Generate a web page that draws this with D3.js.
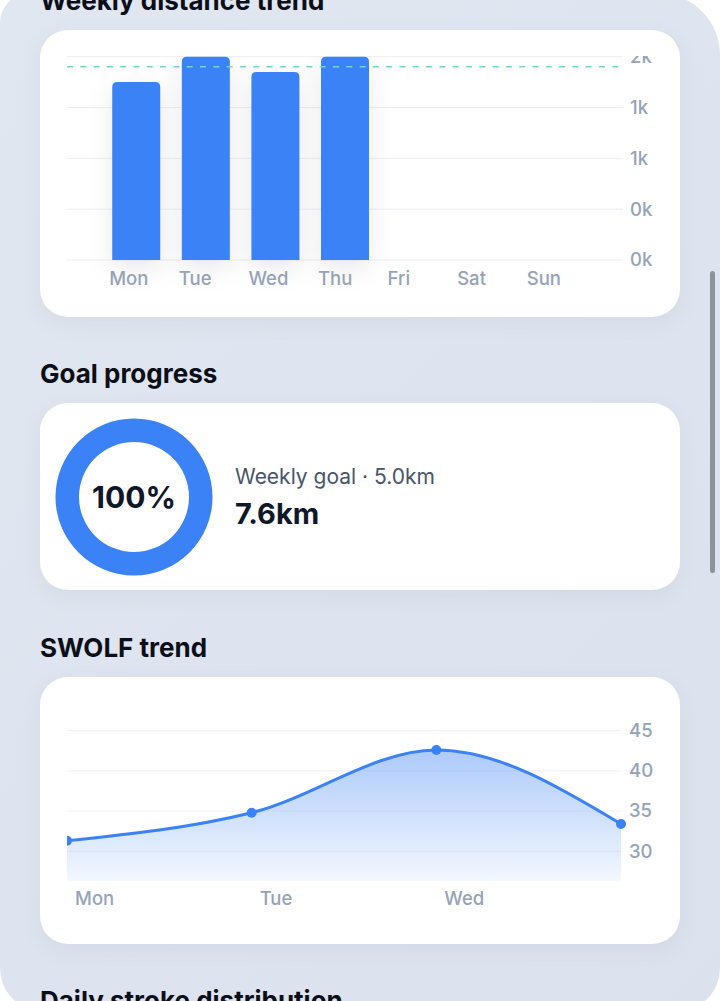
<!DOCTYPE html>
<html>
<head>
<meta charset="utf-8">
<script src="https://cdn.jsdelivr.net/npm/d3@7/dist/d3.min.js"></script>
<style>
  html, body { margin: 0; padding: 0; background: #ffffff; width: 720px; height: 1001px; overflow: hidden; }
  #frame { position: absolute; left: 0; top: -7px; width: 720px; height: 1019px;
    background: linear-gradient(135deg, #e1e7f1 0%, #dde4ef 60%, #dbe2ee 100%);
    border-radius: 30px 62px 44px 44px; }
  #scroll { position: absolute; left: 710px; top: 271px; width: 5px; height: 302px; background: #8e9299; border-radius: 3px; }
  svg { position: absolute; left: 0; top: 0; font-family: Inter, "Noto Sans", sans-serif; }
</style>
</head>
<body>
<div id="frame"></div>
<svg id="page" width="720" height="1001"></svg>
<div id="scroll"></div>
<script>
// ---------- data ----------
const days = ["Mon", "Tue", "Wed", "Thu", "Fri", "Sat", "Sun"];
const distance = [1750, 2000, 1850, 2000, null, null, null];
const distanceTicks = [0, 500, 1000, 1500, 2000];
const distanceTickLabels = ["0k", "0k", "1k", "1k", "2k"];
const avgDistance = 1900;

const goalKm = 5.0;
const totalKm = 7.6;
const goalPct = 100;

const swolfDays = ["Mon", "Tue", "Wed", "Thu"];
const swolf = [31.3, 34.8, 42.6, 33.4];
const swolfTicks = [30, 35, 40, 45];
const swolfAxisLabels = ["Mon", "Tue", "Wed"];

const titles = ["Weekly distance trend", "Goal progress", "SWOLF trend", "Daily stroke distribution"];

// ---------- page ----------
const svg = d3.select("#page");
const defs = svg.append("defs");

const cardShadow = defs.append("filter").attr("id", "cardShadow").attr("x", "-10%").attr("y", "-10%").attr("width", "120%").attr("height", "130%");
cardShadow.append("feDropShadow").attr("dx", 0).attr("dy", 6).attr("stdDeviation", 10)
  .attr("flood-color", "#1e293b").attr("flood-opacity", 0.05);

const barShadow = defs.append("filter").attr("id", "barShadow").attr("x", "-60%").attr("y", "-20%").attr("width", "220%").attr("height", "150%");
barShadow.append("feDropShadow").attr("dx", 0).attr("dy", 8).attr("stdDeviation", 12)
  .attr("flood-color", "#0f172a").attr("flood-opacity", 0.09);

const grad = defs.append("linearGradient").attr("id", "swolfGrad").attr("x1", 0).attr("y1", 0).attr("x2", 0).attr("y2", 1);
grad.append("stop").attr("offset", "0%").attr("stop-color", "#3b82f6").attr("stop-opacity", 0.42);
grad.append("stop").attr("offset", "100%").attr("stop-color", "#3b82f6").attr("stop-opacity", 0.06);

defs.append("clipPath").attr("id", "barClip").append("rect").attr("x", 40).attr("y", 56).attr("width", 640).attr("height", 261);
defs.append("clipPath").attr("id", "swolfClip").append("rect").attr("x", 67).attr("y", 680).attr("width", 620).attr("height", 264);

const cards = [
  { y: 30, h: 287 },
  { y: 403, h: 187 },
  { y: 677, h: 267 }
];
const titleBaselines = [10, 383, 657, 1010];

svg.selectAll("text.title").data(titles).join("text")
  .attr("class", "title")
  .attr("x", 40).attr("y", (d, i) => titleBaselines[i])
  .attr("font-size", 26).attr("font-weight", 700).attr("fill", "#0b0f19")
  .text(d => d);

svg.selectAll("rect.card").data(cards).join("rect")
  .attr("class", "card")
  .attr("x", 40).attr("y", d => d.y).attr("width", 640).attr("height", d => d.h)
  .attr("rx", 28).attr("fill", "#ffffff")
  .attr("filter", "url(#cardShadow)");

const axisColor = "#94a3b8";
const gridColor = "#eceef2";

// ---------- weekly distance bar chart ----------
{
  const g = svg.append("g").attr("clip-path", "url(#barClip)");
  const x = d3.scaleBand().domain(days).range([67, 623]).paddingInner(0.31).paddingOuter(0.65);
  const y = d3.scaleLinear().domain([0, 2000]).range([260, 56.7]);

  g.append("g").selectAll("line").data(distanceTicks).join("line")
    .attr("x1", 67).attr("x2", 623)
    .attr("y1", d => y(d)).attr("y2", d => y(d))
    .attr("stroke", gridColor).attr("stroke-width", 1);

  const r = 5;
  const barData = days.map((d, i) => ({ day: d, v: distance[i] })).filter(d => d.v != null);
  g.append("g").attr("filter", "url(#barShadow)")
    .selectAll("path").data(barData).join("path")
    .attr("fill", "#3b82f6")
    .attr("d", d => {
      const x0 = x(d.day), w = x.bandwidth(), y0 = y(d.v), y1 = y(0);
      return `M${x0},${y1} V${y0 + r} Q${x0},${y0} ${x0 + r},${y0} H${x0 + w - r} Q${x0 + w},${y0} ${x0 + w},${y0 + r} V${y1} Z`;
    });

  g.append("line")
    .attr("x1", 67).attr("x2", 623)
    .attr("y1", y(avgDistance)).attr("y2", y(avgDistance))
    .attr("stroke", "#6fd6c8").attr("stroke-width", 1.5).attr("stroke-dasharray", "6 7.3");

  const yAxis = d3.axisRight(y).tickValues(distanceTicks)
    .tickFormat((d, i) => distanceTickLabels[i]).tickSize(0).tickPadding(7);
  const ya = g.append("g").attr("transform", "translate(623,0)").call(yAxis);
  ya.select(".domain").remove();
  ya.selectAll("text").attr("fill", axisColor).attr("font-size", 18.5).attr("font-weight", 500).attr("font-family", "Inter, sans-serif");

  const xAxis = d3.axisBottom(x).tickSize(0).tickPadding(0);
  const xa = svg.append("g").attr("transform", "translate(0,271)").call(xAxis);
  xa.select(".domain").remove();
  xa.selectAll("text").attr("fill", axisColor).attr("font-size", 18.5).attr("font-weight", 500).attr("font-family", "Inter, sans-serif")
    .attr("text-anchor", "start").attr("x", -x.bandwidth() / 2 - 3).attr("dy", "0.76em");
}

// ---------- goal progress donut ----------
{
  const cx = 134, cy = 497, ro = 78.5, ri = 55;
  const g = svg.append("g").attr("transform", `translate(${cx},${cy})`);
  const arc = d3.arc().innerRadius(ri).outerRadius(ro);
  g.append("path").attr("d", arc({ startAngle: 0, endAngle: 2 * Math.PI })).attr("fill", "#e6eefc");
  const frac = Math.min(1, totalKm / goalKm);
  g.append("path").attr("d", arc({ startAngle: 0, endAngle: 2 * Math.PI * frac })).attr("fill", "#3b82f6");
  g.append("text").attr("text-anchor", "middle").attr("y", 10.5)
    .attr("font-size", 30).attr("font-weight", 700).attr("fill", "#0f172a")
    .text(goalPct + "%");

  svg.append("text").attr("x", 235).attr("y", 484)
    .attr("font-size", 21).attr("fill", "#475569")
    .text(`Weekly goal · ${goalKm.toFixed(1)}km`);
  svg.append("text").attr("x", 235).attr("y", 523.5)
    .attr("font-size", 29).attr("font-weight", 700).attr("fill", "#0f172a")
    .text(`${totalKm.toFixed(1)}km`);
}

// ---------- SWOLF area chart ----------
{
  const x = d3.scalePoint().domain(swolfDays).range([67, 621]);
  const y = d3.scaleLinear().domain([d3.min(swolf) - 5, d3.max(swolf) + 5]).range([881, 709.8]);
  const pts = swolfDays.map((d, i) => ({ d, v: swolf[i] }));

  const g = svg.append("g").attr("clip-path", "url(#swolfClip)");
  g.append("g").selectAll("line").data(swolfTicks).join("line")
    .attr("x1", 67).attr("x2", 621)
    .attr("y1", d => y(d)).attr("y2", d => y(d))
    .attr("stroke", "#f0f1f4").attr("stroke-width", 1);

  const area = d3.area().x(p => x(p.d)).y0(y.range()[0]).y1(p => y(p.v)).curve(d3.curveMonotoneX);
  const line = d3.line().x(p => x(p.d)).y(p => y(p.v)).curve(d3.curveMonotoneX);
  g.append("path").datum(pts).attr("d", area).attr("fill", "url(#swolfGrad)");
  g.append("path").datum(pts).attr("d", line).attr("fill", "none").attr("stroke", "#3b82f6").attr("stroke-width", 3);
  g.selectAll("circle").data(pts).join("circle")
    .attr("cx", p => x(p.d)).attr("cy", p => y(p.v)).attr("r", 5).attr("fill", "#3b82f6");

  const yAxis = d3.axisRight(y).tickValues(swolfTicks).tickSize(0).tickPadding(8);
  const ya = svg.append("g").attr("transform", "translate(621,0)").call(yAxis);
  ya.select(".domain").remove();
  ya.selectAll("text").attr("fill", axisColor).attr("font-size", 18.5).attr("font-weight", 500).attr("font-family", "Inter, sans-serif");

  svg.append("g").selectAll("text").data(swolfAxisLabels).join("text")
    .attr("x", d => x(d) + 8).attr("y", 905)
    .attr("fill", axisColor).attr("font-size", 18.5).attr("font-weight", 500)
    .text(d => d);
}
</script>
</body>
</html>
